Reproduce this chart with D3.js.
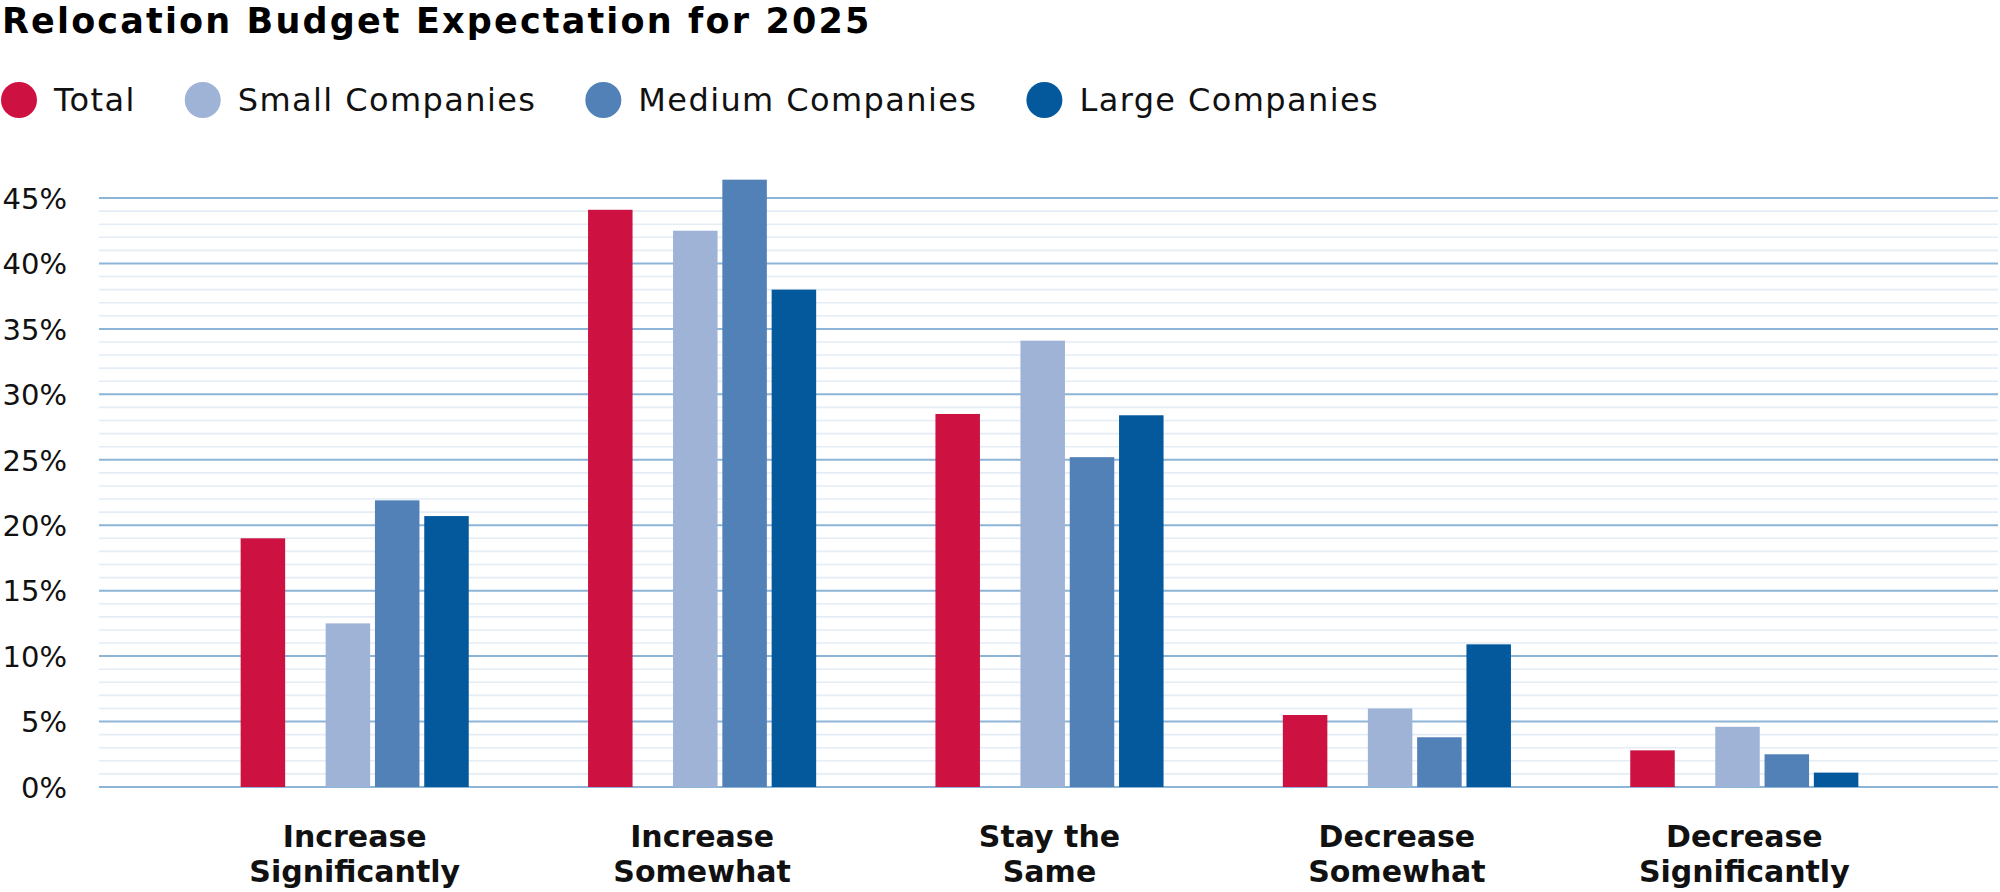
<!DOCTYPE html>
<html><head><meta charset="utf-8">
<script src="https://cdn.jsdelivr.net/npm/d3@7/dist/d3.min.js"></script>
<style>body{margin:0;background:#fff}svg{display:block}</style>
</head><body><svg id="c" width="2000" height="892"></svg>
<script>
const title = "Relocation Budget Expectation for 2025";
const categories = ["Increase Significantly", "Increase Somewhat", "Stay the Same", "Decrease Somewhat", "Decrease Significantly"];
const categoryLines = [["Increase", "Significantly"], ["Increase", "Somewhat"], ["Stay the", "Same"], ["Decrease", "Somewhat"], ["Decrease", "Significantly"]];
const seriesNames = ["Total", "Small Companies", "Medium Companies", "Large Companies"];
const seriesColors = ["#cd1141", "#9fb3d6", "#5181b7", "#03599c"];
const totalValues  = [19.0, 44.1, 28.5, 5.5, 2.8];
const smallValues  = [12.5, 42.5, 34.1, 6.0, 4.6];
const mediumValues = [21.9, 46.4, 25.2, 3.8, 2.5];
const largeValues  = [20.7, 38.0, 28.4, 10.9, 1.1];
const yTicks = [0, 5, 10, 15, 20, 25, 30, 35, 40, 45];
const yTickLabels = ["0%", "5%", "10%", "15%", "20%", "25%", "30%", "35%", "40%", "45%"];

const seriesValues = [totalValues, smallValues, mediumValues, largeValues];
const svg = d3.select("#c");
const FONT = "'DejaVu Sans', 'Noto Sans', sans-serif";

const y = d3.scaleLinear().domain([0, 45]).range([787, 198]);
const x0 = d3.scaleBand().domain(categories).range([181, 1918]).padding(0);
const barW = 44.5;
const x1 = d3.scaleOrdinal().domain(seriesNames).range([0, 85, 134.3, 183.6]);
const groupW = 183.6 + barW;

// minor gridlines
const minor = d3.range(0, 46).filter(v => v % 5 !== 0);
svg.append("g").selectAll("line").data(minor).join("line")
  .attr("x1", 99).attr("x2", 1998)
  .attr("y1", d => y(d)).attr("y2", d => y(d))
  .attr("stroke", "#e4edf6").attr("stroke-width", 1.6);

// major gridlines
svg.append("g").selectAll("line").data(yTicks).join("line")
  .attr("x1", 99).attr("x2", 1998)
  .attr("y1", d => y(d)).attr("y2", d => y(d))
  .attr("stroke", "#8db5d7").attr("stroke-width", 2);

// y labels
svg.append("g").selectAll("text").data(yTicks).join("text")
  .attr("x", 67).attr("y", d => y(d) + 10.8)
  .attr("text-anchor", "end")
  .attr("font-family", FONT).attr("font-size", 29).attr("fill", "#111")
  .text((d, i) => yTickLabels[i]);

// bars
const groups = svg.append("g").selectAll("g").data(categories).join("g")
  .attr("transform", c => `translate(${x0(c) + x0.bandwidth() / 2 - groupW / 2},0)`);
groups.selectAll("rect").data((c, ci) => seriesNames.map((s, si) => ({s, si, v: seriesValues[si][ci]})))
  .join("rect")
  .attr("x", d => x1(d.s)).attr("width", barW)
  .attr("y", d => y(d.v)).attr("height", d => y(0) - y(d.v))
  .attr("fill", d => seriesColors[d.si]);

// category labels
const lab = svg.append("g").selectAll("text").data(categories).join("text")
  .attr("x", c => x0(c) + x0.bandwidth() / 2)
  .attr("text-anchor", "middle")
  .attr("font-family", FONT).attr("font-size", 30).attr("font-weight", 700).attr("fill", "#111");
lab.selectAll("tspan").data((c, i) => categoryLines[i]).join("tspan")
  .attr("x", function () { return d3.select(this.parentNode).attr("x"); })
  .attr("y", (d, i) => i === 0 ? 847 : 882)
  .text(d => d);

// title
svg.append("text").attr("x", 2).attr("y", 33)
  .attr("font-family", FONT).attr("font-size", 35).attr("font-weight", 700)
  .attr("letter-spacing", 2.15).attr("fill", "#000")
  .text(title);

// legend (flow layout)
const leg = svg.append("g");
let lx = 1;
seriesNames.forEach((s, i) => {
  leg.append("circle").attr("cx", lx + 18).attr("cy", 100).attr("r", 18).attr("fill", seriesColors[i]);
  const t = leg.append("text").attr("x", lx + 53).attr("y", 111)
    .attr("font-family", FONT).attr("font-size", 32).attr("letter-spacing", 1.4).attr("fill", "#111")
    .text(s);
  lx = lx + 53 + t.node().getComputedTextLength() + 49;
});
</script></body></html>
